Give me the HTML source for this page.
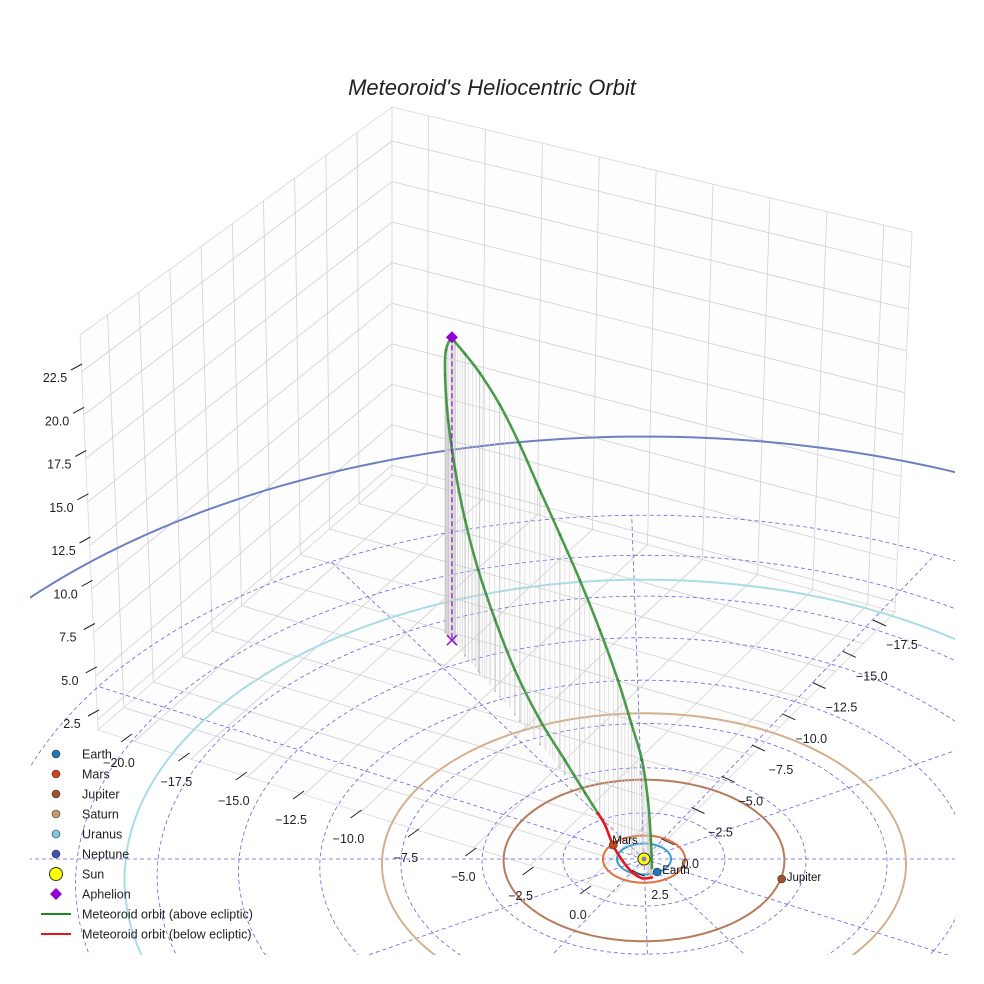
<!DOCTYPE html>
<html><head><meta charset="utf-8"><style>
html,body{margin:0;padding:0;background:#fff;width:984px;height:984px;overflow:hidden;}
svg{display:block;font-family:"Liberation Sans",sans-serif;}
</style></head><body>
<svg id="chart" width="984" height="984" viewBox="0 0 984 984" xmlns="http://www.w3.org/2000/svg">
<defs><clipPath id="axclip"><rect x="30" y="0" width="925" height="955"/></clipPath></defs>
<text x="492" y="95" text-anchor="middle" font-size="22" font-style="italic" fill="#222">Meteoroid's Heliocentric Orbit</text>
<g id="panes"></g>
<g id="eclip" clip-path="url(#axclip)"></g>
<g id="ticks"></g>
<g id="orbitg"></g>
<g id="planets"></g>
<g id="legend"></g>
</svg>
<script>
// ---- data ----
const orbitX = [0.83,0.76,0.55,0.14,-0.56,-1.54,-2.81,-4.23,-5.67,-7.12,-8.59,-10.08,-11.59,-12.71,-13.47,-13.71,-14.17,-14.24,-14.00,-13.47,-12.71,-11.72,-10.44,-8.96,-7.12,-5.30,-3.86,-2.95,-2.44,-1.89,-1.24,-0.56,0.14,0.83];
const orbitY = [0.90,0.85,0.70,0.41,-0.08,-0.78,-1.68,-2.68,-3.71,-4.73,-5.77,-6.82,-7.89,-8.69,-9.23,-9.39,-9.72,-9.77,-9.60,-9.23,-8.69,-8.00,-7.09,-6.03,-4.73,-3.43,-2.42,-1.78,-1.42,-1.03,-0.57,-0.08,0.41,0.90];
const orbitZ = [0.53,2.04,4.10,5.95,7.28,8.91,10.59,12.15,13.46,14.75,16.09,17.13,17.70,17.85,17.90,18.00,16.84,15.28,12.80,10.31,8.02,5.95,4.17,2.61,1.42,0.82,0.30,0.00,-0.19,-0.79,-1.03,-1.03,-0.71,0.00];
const aphelionIndex = 15;
const planetNames = ["Earth","Mars","Jupiter","Saturn","Uranus","Neptune"];
const planetRadii = [1.0,1.52,5.2,9.7,19.2,30.07];
const planetColors = ["#3a9ad6","#e0703f","#b77a5a","#d4b08e","#a9dce6","#6d80c4"];
const dotColors = ["#1f77b4","#cc4418","#a0522d","#c49a6c","#7ec8d8","#3f51b5"];
const planetPosX = [0.83,-1.44,5.07];
const planetPosY = [0.50,-0.24,-1.32];
const gridRings = [3,6,9,12,15,18,21,24];
const radialAngles = [0,30,60,90,120,180,210,240,270,300];
const xTicks = [-20,-17.5,-15,-12.5,-10,-7.5,-5,-2.5,0];
const yTicks = [-17.5,-15,-12.5,-10,-7.5,-5,-2.5,0,2.5];
const zTicks = [2.5,5,7.5,10,12.5,15,17.5,20,22.5];

const NS="http://www.w3.org/2000/svg";
function mk(tag,attrs,parent){const e=document.createElementNS(NS,tag);for(const k in attrs)e.setAttribute(k,attrs[k]);parent.appendChild(e);return e;}
function proj(x,y,z){const h=0.876*x-0.482*y;const d=(0.277*x+0.504*y)/0.575;const p=1/(1-0.0035*d);return [644+27*h*p,859+(27*0.575*d-17.7*z)*p];}
function bil(c00,c10,c01,c11,u,v){return [(1-u)*(1-v)*c00[0]+u*(1-v)*c10[0]+(1-u)*v*c01[0]+u*v*c11[0],(1-u)*(1-v)*c00[1]+u*(1-v)*c10[1]+(1-u)*v*c01[1]+u*v*c11[1]];}
const f=n=>n.toFixed(1);

// ---- box panes ----
const Bb=[392,475],Lb=[98,730],Bt=[392,107],Lt=[80,335],Rb=[895,612],Rt=[912,232],F=[615,892];
const xmin=-21.6,xmax=1.24,ymin=-20.3,ymax=4.7,zmin=1.9,zmax=24.6;
const panes=document.getElementById('panes');
function pane(c00,c10,c01,c11,us,vs,name){
  const g=mk('g',{},panes);
  
  
  mk('path',{d:`M${c00}L${c10}L${c11}L${c01}Z`,fill:'#fdfdfd',stroke:'#d8d8d8','stroke-width':0.8},g);
  us.forEach(u=>{const a=bil(c00,c10,c01,c11,u,0),b=bil(c00,c10,c01,c11,u,1);const l=mk('line',{x1:f(a[0]),y1:f(a[1]),x2:f(b[0]),y2:f(b[1]),stroke:'#d0d0d0','stroke-width':0.8},g);});
  vs.forEach(v=>{const a=bil(c00,c10,c01,c11,0,v),b=bil(c00,c10,c01,c11,1,v);const l=mk('line',{x1:f(a[0]),y1:f(a[1]),x2:f(b[0]),y2:f(b[1]),stroke:'#d0d0d0','stroke-width':0.8},g);});
}
const uX=xTicks.map(v=>(v-xmin)/(xmax-xmin)), uY=yTicks.map(v=>(v-ymin)/(ymax-ymin)), vZ=zTicks.map(v=>(v-zmin)/(zmax-zmin));
pane(Bb,Lb,Bt,Lt,uY,vZ,'left-wall-pane');
pane(Bb,Rb,Bt,Rt,uX,vZ,'back-wall-pane');
pane(Bb,Rb,Lb,F,uX,uY,'floor-pane');

// ---- ecliptic grid and orbits ----
const ec=document.getElementById('eclip');
gridRings.forEach(r=>{let d='';for(let i=0;i<=180;i++){const t=i/180*2*Math.PI;const p=proj(r*Math.cos(t),r*Math.sin(t),0);d+=(i?'L':'M')+f(p[0])+','+f(p[1]);}
  const e=mk('path',{d:d,fill:'none',stroke:'#4a4ae0','stroke-width':0.8,'stroke-dasharray':'4 3',opacity:0.85},ec);
  });
radialAngles.forEach(a=>{const t=a*Math.PI/180;const p0=proj(0,0,0),p1=proj(24*Math.cos(t),24*Math.sin(t),0);
  const e=mk('line',{x1:f(p0[0]),y1:f(p0[1]),x2:f(p1[0]),y2:f(p1[1]),stroke:'#4a4ae0','stroke-width':0.8,'stroke-dasharray':'4 3',opacity:0.85},ec);
  });
{const e=mk('line',{x1:0,y1:859,x2:984,y2:859,stroke:'#4a4ae0','stroke-width':0.8,'stroke-dasharray':'4 3',opacity:0.85},ec);
 }
planetRadii.forEach((r,i)=>{let d='';for(let k=0;k<=360;k++){const t=k/360*2*Math.PI;const p=proj(r*Math.cos(t),r*Math.sin(t),0);d+=(k?'L':'M')+f(p[0])+','+f(p[1]);}
  const e=mk('path',{d:d,fill:'none',stroke:planetColors[i],'stroke-width':2},ec);
  });

// ---- meteoroid orbit ----
const og=document.getElementById('orbitg');
const P=orbitX.map((x,i)=>proj(x,orbitY[i],orbitZ[i]));
const G=orbitX.map((x,i)=>proj(x,orbitY[i],0));
for(let i=0;i<P.length;i++){
  if(orbitZ[i]>0.3){
    const l=mk('line',{x1:f(P[i][0]),y1:f(P[i][1]),x2:f(G[i][0]),y2:f(G[i][1]),stroke:'#bdbdbd','stroke-width':0.8},og);
    
    const c=mk('circle',{cx:f(G[i][0]),cy:f(G[i][1]),r:1,fill:'#bbb'},og);
    
  }
  if(i<P.length-1 && orbitZ[i]>0.3 && orbitZ[i+1]>0.3){
    for(let s=1;s<4;s++){const t=s/4;const x=orbitX[i]+(orbitX[i+1]-orbitX[i])*t,y=orbitY[i]+(orbitY[i+1]-orbitY[i])*t,z=orbitZ[i]+(orbitZ[i+1]-orbitZ[i])*t;
      const a=proj(x,y,z),b=proj(x,y,0);
      const l=mk('line',{x1:f(a[0]),y1:f(a[1]),x2:f(b[0]),y2:f(b[1]),stroke:'#d4d4d4','stroke-width':0.6},og);
      }
  }
}
for(let i=0;i<P.length-1;i++){
  const p0=P[Math.max(0,i-1)],p1=P[i],p2=P[i+1],p3=P[Math.min(P.length-1,i+2)];
  const c1=[p1[0]+(p2[0]-p0[0])/6,p1[1]+(p2[1]-p0[1])/6],c2=[p2[0]-(p3[0]-p1[0])/6,p2[1]-(p3[1]-p1[1])/6];
  const below=(orbitZ[i]+orbitZ[i+1])/2<0;
  const e=mk('path',{d:`M${f(p1[0])},${f(p1[1])}C${f(c1[0])},${f(c1[1])} ${f(c2[0])},${f(c2[1])} ${f(p2[0])},${f(p2[1])}`,fill:'none',stroke:below?'#e8161c':'#2e8b2e','stroke-width':2.6,'stroke-opacity':below?1:0.85,'stroke-linecap':'round'},og);
  
}
{const a=P[aphelionIndex],b=G[aphelionIndex];
 const l=mk('line',{x1:f(a[0]),y1:f(a[1]),x2:f(b[0]),y2:f(b[1]),stroke:'#9400d3','stroke-width':1.2,'stroke-dasharray':'5 3'},og);
 
 const x=mk('path',{d:`M${f(b[0]-5)},${f(b[1]-5)}L${f(b[0]+5)},${f(b[1]+5)}M${f(b[0]-5)},${f(b[1]+5)}L${f(b[0]+5)},${f(b[1]-5)}`,stroke:'#9400d3','stroke-width':1.4},og);
 
 const dm=mk('path',{d:`M${f(a[0])},${f(a[1]-6)}L${f(a[0]+6)},${f(a[1])}L${f(a[0])},${f(a[1]+6)}L${f(a[0]-6)},${f(a[1])}Z`,fill:'#9400d3'},og);
 }

// ---- planets & sun ----
const pg=document.getElementById('planets');
{const s=proj(0,0,0);
 const c=mk('circle',{cx:f(s[0]),cy:f(s[1]),r:6,fill:'#ffff00',stroke:'#333','stroke-width':1},pg);
 
 const c2=mk('circle',{cx:f(s[0]),cy:f(s[1]),r:2.5,fill:'#7a7ad8'},pg);
 }
planetPosX.forEach((x,i)=>{const p=proj(x,planetPosY[i],0);
  const c=mk('circle',{cx:f(p[0]),cy:f(p[1]),r:4,fill:dotColors[i],stroke:'#333','stroke-width':0.6},pg);
  
  const t=mk('text',{x:f(p[0]+(i==1?-1:5)),y:f(p[1]+(i==1?-1:2)),'font-size':11.5,fill:'#111'},pg);t.textContent=planetNames[i];
  });

// ---- tick labels ----
const tg=document.getElementById('ticks');
function lab(x,y,txt,name){const t=mk('text',{x:f(x),y:f(y),'font-size':12.5,fill:'#222','text-anchor':'middle'},tg);t.textContent=txt;}
function tick(x1,y1,x2,y2){const l=mk('line',{x1:f(x1),y1:f(y1),x2:f(x2),y2:f(y2),stroke:'#222','stroke-width':1},tg);}
const fmt=v=>(v<0?'\u2212':'')+Math.abs(v).toFixed(1);
xTicks.forEach(v=>{const k=(v+20)/20;const x=119+k*(578-119),y=763+k*(915-763);lab(x,y+4,fmt(v),'x-tick-label');tick(x+2,y-21,x+13,y-29);});
yTicks.forEach(v=>{const k=(v+17.5)/20;const x=902+k*(660-902),y=645+k*(895-645);lab(x,y+4,fmt(v),'y-tick-label');tick(x-29,y-25,x-16,y-19);});
zTicks.forEach(v=>{const k=(v-2.5)/20;const x=72+k*(55-72),y=724+k*(378-724);lab(x,y+4,fmt(v),'z-tick-label');tick(x+16,y-8,x+27,y-14);});

// ---- legend ----
const lg=document.getElementById('legend');
const legendLabels=["Earth","Mars","Jupiter","Saturn","Uranus","Neptune","Sun","Aphelion","Meteoroid orbit (above ecliptic)","Meteoroid orbit (below ecliptic)"];
legendLabels.forEach((name,i)=>{const y=754+i*20;
  const g=mk('g',{},lg);
  
  if(i<6){mk('circle',{cx:56,cy:y,r:4,fill:dotColors[i],stroke:'#333','stroke-width':0.6},g);}
  else if(i==6){mk('circle',{cx:56,cy:y,r:6.5,fill:'#ffff00',stroke:'#333','stroke-width':1},g);}
  else if(i==7){mk('path',{d:`M56,${y-6}L62,${y}L56,${y+6}L50,${y}Z`,fill:'#9400d3'},g);}
  else {mk('line',{x1:41,y1:y,x2:71,y2:y,stroke:i==8?'#1a8a1a':'#e8161c','stroke-width':2},g);}
  const t=mk('text',{x:82,y:y+4.5,'font-size':12.5,fill:'#222'},g);t.textContent=name;
  
});
</script>
</body></html>
